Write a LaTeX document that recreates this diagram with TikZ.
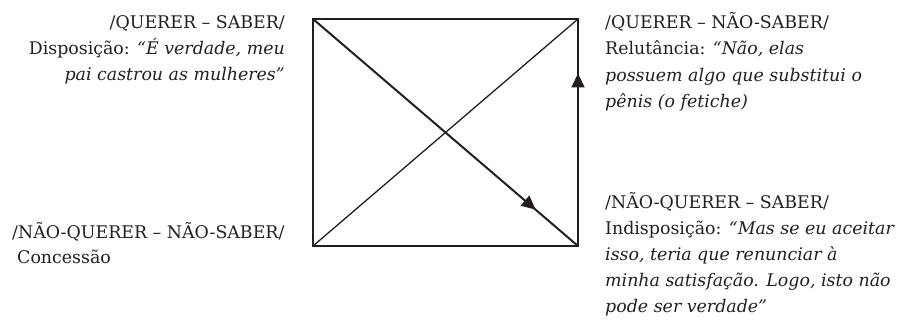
\documentclass[tikz,border=0pt]{standalone}
\usepackage{fontspec}
\setmainfont{DejaVu Serif}
\usetikzlibrary{arrows.meta,decorations.markings}
\definecolor{ink}{HTML}{231F20}
\begin{document}
\begin{tikzpicture}[x=1pt,y=-1pt,
  txt/.style={inner sep=0pt,text=ink,font=\fontsize{17.4}{26}\selectfont},
  lft/.style={txt,anchor=base west},
  rgt/.style={txt,anchor=base east},
  side/.style={draw=ink,line width=1.6pt},
  cross/.style={draw=ink,line width=1.3pt},
  flow/.style={draw=ink,line width=2pt},
  tipat/.style={postaction=decorate,decoration={markings,
     mark=at position #1 with {\arrow{Triangle[length=14pt,width=13pt]}}}}]
\useasboundingbox (0,0) rectangle (909,320);
\coordinate (TL) at (313,19);
\coordinate (TR) at (578,19);
\coordinate (BL) at (313,246);
\coordinate (BR) at (578,246);
\draw[side] (TL) -- (TR) -- (BR) -- (BL) -- cycle;
\draw[cross] (BL) -- (TR);
\draw[flow,tipat=0.84] (TL) -- (BR);
\draw[flow,tipat=0.76] (BR) -- (TR);
% top-left
\node[rgt] (a1) at (285,29) {/QUERER – SABER/};
\node[rgt] (a2) at (285,55) {Disposição: \textit{“É verdade, meu}};
\node[rgt] (a3) at (285,81) {\textit{pai castrou as mulheres”}};
% top-right
\node[lft] (b1) at (605,28.5) {/QUERER – NÃO-SABER/};
\node[lft] (b2) at (605,55) {Relutância: \textit{“Não, elas}};
\node[lft] (b3) at (605,81.5) {\textit{possuem algo que substitui o}};
\node[lft] (b4) at (605,108) {\textit{pênis (o fetiche)}};
% bottom-right
\node[lft] (c1) at (605,208.5) {/NÃO-QUERER – SABER/};
\node[lft] (c2) at (605,234.5) {Indisposição: \textit{“Mas se eu aceitar}};
\node[lft] (c3) at (605,260.5) {\textit{isso, teria que renunciar à}};
\node[lft] (c4) at (605,286.5) {\textit{minha satisfação. Logo, isto não}};
\node[lft] (c5) at (605,312.5) {\textit{pode ser verdade”}};
% bottom-left
\node[lft] (d1) at (12,238) {/NÃO-QUERER – NÃO-SABER/};
\node[lft] (d2) at (17,263) {Concessão};
\end{tikzpicture}
\end{document}
